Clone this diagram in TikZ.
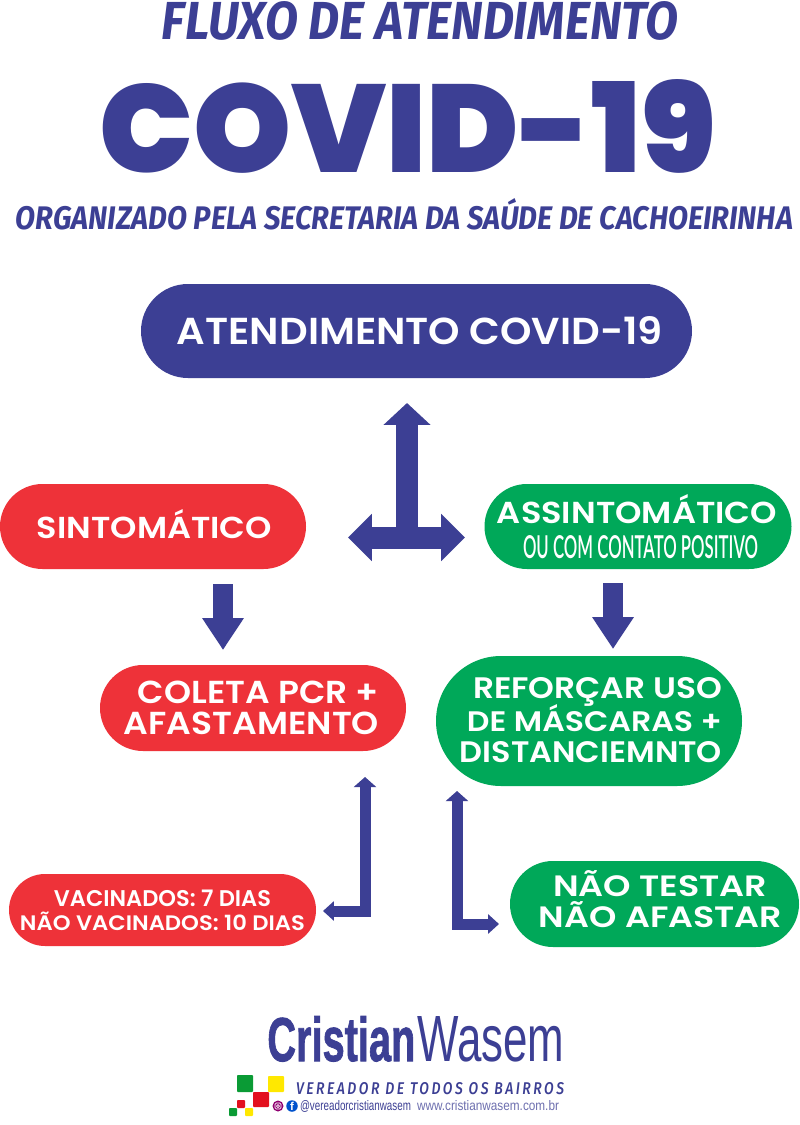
\documentclass[tikz,border=0pt]{standalone}
\usepackage{fontspec}
\usetikzlibrary{arrows.meta,shapes.misc}
\setmainfont{Poppins}[BoldFont=* SemiBold]
\newfontfamily\heavyfont{Poppins}[UprightFont=* Black]
\newfontfamily\brushfont{Fira Sans}[UprightFont=* Bold Italic]
\newfontfamily\thinfont{Lato}[UprightFont=* Light]
\newfontfamily\logofont{Liberation Sans}
\newfontfamily\logoheavy{Liberation Sans}[UprightFont=* Bold,FakeBold=1.5]
\newfontfamily\spacedfont{Fira Sans}[UprightFont=* Medium Italic,LetterSpace=18]
\newlength\pxu
\setlength\pxu{0.02cm}
\newcommand{\fitbox}[3]{\resizebox{#1\pxu}{#2\pxu}{#3}}
\newcommand{\lineat}[5]{\makebox[0pt][l]{\hspace*{#1\pxu}\raisebox{-#2\pxu}[0pt][0pt]{\makebox[0pt]{\fitbox{#3}{#4}{#5}}}}}
\begin{document}
\begin{tikzpicture}[x=0.02cm,y=-0.02cm,
    pill/.style={rounded rectangle,inner sep=0pt,text=white,font=\bfseries},
    bluepill/.style={pill,fill=covidblue},
    redpill/.style={pill,fill=covidred},
    greenpill/.style={pill,fill=covidgreen},
    plain/.style={inner sep=0pt,text=covidblue},
    wideflow/.style={draw=covidblue,line width=22\pxu,{Triangle[length=13.6pt,width=26.1pt]}-{Triangle[length=13.6pt,width=26.1pt]}},
    upflow/.style={draw=covidblue,line width=22\pxu,-{Triangle[length=12.5pt,width=26.1pt]}},
    downflow/.style={draw=covidblue,line width=20\pxu,-{Triangle[length=18.1pt,width=22.4pt]}},
    elbowflow/.style={draw=covidblue,line width=11\pxu,{Triangle[length=5.7pt,width=12.5pt]}-{Triangle[length=6.2pt,width=10.8pt]}},
    tile/.style={inner sep=0pt,rounded corners=0.5pt}]
    \definecolor{covidblue}{HTML}{3C3F94}
    \definecolor{covidred}{HTML}{EE3239}
    \definecolor{covidgreen}{HTML}{00A859}
    \definecolor{tilegreen}{HTML}{0A9B35}
    \definecolor{tileyellow}{HTML}{FFE800}
    \definecolor{tilered}{HTML}{E3101E}
    \useasboundingbox[fill=white] (0,0) rectangle (800,1125);

    \node[plain] (fluxo) at (420,21) {\fitbox{516}{38}{\brushfont FLUXO DE ATENDIMENTO}};
    \node[plain] (covid) at (407.5,126.5) {\fitbox{616}{93}{\heavyfont COVID-19}};
    \node[plain] (orgao) at (404.5,214) {\fitbox{777}{31}{\brushfont ORGANIZADO PELA SECRETARIA DA SAÚDE DE CACHOEIRINHA}};

    \node[bluepill,minimum width=551\pxu,minimum height=94\pxu] (atend) at (416.5,331) {\lineat{3.5}{13.5}{486}{28}{ATENDIMENTO COVID-19}};
    \node[redpill,minimum width=306\pxu,minimum height=85\pxu] (sint) at (153,526.5) {\lineat{1.5}{11.5}{235}{29}{SINTOMÁTICO}};
    \node[greenpill,minimum width=307\pxu,minimum height=85\pxu] (assint) at (638,526.5) {\lineat{-1}{-3.5}{280}{29}{ASSINTOMÁTICO}\lineat{2.5}{31.5}{235}{23}{\thinfont OU COM CONTATO POSITIVO}};
    \node[redpill,minimum width=306\pxu,minimum height=86\pxu] (coleta) at (253,708) {\lineat{5.5}{-4.7}{241}{22.5}{COLETA PCR +}\lineat{-1.5}{26}{255}{22.5}{AFASTAMENTO}};
    \node[greenpill,minimum width=306\pxu,minimum height=130\pxu] (reforco) at (589,721) {\lineat{8.5}{-23}{249}{21}{REFORÇAR USO}\lineat{5.5}{10}{255}{27}{DE MÁSCARAS +}\lineat{2}{41}{262}{21}{DISTANCIEMNTO}};
    \node[redpill,minimum width=307\pxu,minimum height=72\pxu] (vacina) at (162.5,910) {\lineat{0}{-3.5}{217}{16.5}{VACINADOS: 7 DIAS}\lineat{0}{20}{285}{18.5}{NÃO VACINADOS: 10 DIAS}};
    \node[greenpill,minimum width=289\pxu,minimum height=86\pxu] (naotestar) at (654.5,904) {\lineat{5.5}{-8}{214}{26}{NÃO TESTAR}\lineat{6}{23}{243}{26}{NÃO AFASTAR}};

    \coordinate (tjoin) at (407,537.5);
    \coordinate (ttop) at (407,403);
    \coordinate (tleft) at (348,537.5);
    \coordinate (tright) at (465,537.5);
    \coordinate (sintdown) at (223,584);
    \coordinate (sintend) at (223,650);
    \coordinate (assintdown) at (613,583);
    \coordinate (assintend) at (613,649);
    \coordinate (coletatop) at (365,777);
    \coordinate (vacinaend) at (323,911);
    \coordinate (reforcotop) at (457,791);
    \coordinate (testarend) at (499,924);

    \draw[wideflow] (tleft) -- (tright);
    \draw[upflow] (tjoin) -- (ttop);
    \draw[downflow] (sintdown) -- (sintend);
    \draw[downflow] (assintdown) -- (assintend);
    \draw[elbowflow] (coletatop) |- (vacinaend);
    \draw[elbowflow] (reforcotop) |- (testarend);

    \node[plain,anchor=south west] (cristian) at (267,1062) {\fitbox{148}{45}{\logoheavy Cristian}};
    \node[plain,anchor=south west] (wasem) at (417,1062) {\fitbox{147}{45}{\logofont Wasem}};
    \node[plain] (vereador) at (430,1089) {\fitbox{268}{12}{\spacedfont VEREADOR DE TODOS OS BAIRROS}};

    \fill[tile,fill=tilegreen] (237,1075) rectangle (253,1092);
    \fill[tile,fill=tileyellow] (268,1076) rectangle (284,1092);
    \fill[tile,fill=tilered] (253,1092) rectangle (269,1107);
    \fill[tile,fill=tilered] (237,1100) rectangle (245,1108);
    \fill[tile,fill=tilegreen] (229,1108) rectangle (237,1116);
    \fill[tile,fill=tileyellow] (245,1108) rectangle (253,1116);

    \fill[fill=purple!75!blue] (278,1106) circle[radius=5.5];
    \draw[white,line width=0.4pt,rounded corners=0.8pt] (275,1103) rectangle (281,1109);
    \draw[white,line width=0.4pt] (278,1106) circle[radius=1.5];
    \node[circle,fill=blue!60!cyan!80!black,text=white,inner sep=0pt,minimum size=11.5\pxu,font=\logofont\bfseries\fontsize{6.5}{6.5}\selectfont] (face) at (292,1106) {f};
    \node[plain] (insta) at (355.5,1106) {\fitbox{111}{10}{\logofont @vereadorcristianwasem}};
    \node[plain,text=covidblue!75] (site) at (488,1106) {\fitbox{142}{10}{\logofont www.cristianwasem.com.br}};
\end{tikzpicture}
\end{document}
